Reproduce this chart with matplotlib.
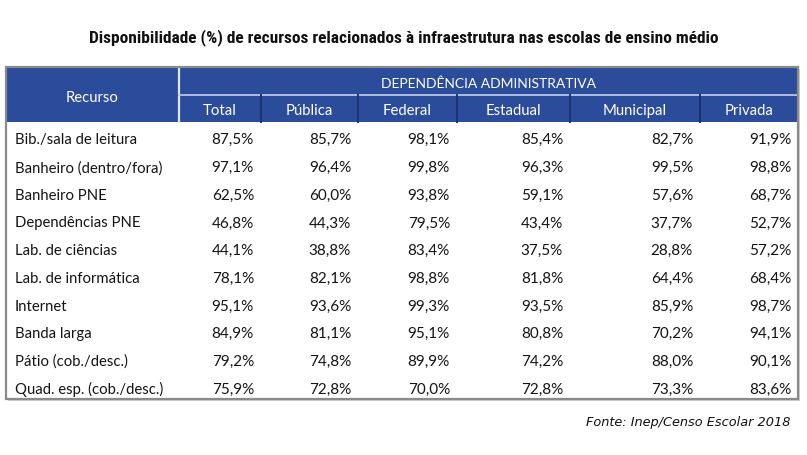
import matplotlib
matplotlib.use("Agg")
import matplotlib.pyplot as plt
from matplotlib.patches import Rectangle
from matplotlib import font_manager

# ---------------- data ----------------
title = "Disponibilidade (%) de recursos relacionados à infraestrutura nas escolas de ensino médio"
source = "Fonte: Inep/Censo Escolar 2018"
row_header = "Recurso"
group_header = "DEPENDÊNCIA ADMINISTRATIVA"
columns = ["Total", "Pública", "Federal", "Estadual", "Municipal", "Privada"]
resources = [
    "Bib./sala de leitura",
    "Banheiro (dentro/fora)",
    "Banheiro PNE",
    "Dependências PNE",
    "Lab. de ciências",
    "Lab. de informática",
    "Internet",
    "Banda larga",
    "Pátio (cob./desc.)",
    "Quad. esp. (cob./desc.)",
]
total     = [87.5, 97.1, 62.5, 46.8, 44.1, 78.1, 95.1, 84.9, 79.2, 75.9]
publica   = [85.7, 96.4, 60.0, 44.3, 38.8, 82.1, 93.6, 81.1, 74.8, 72.8]
federal   = [98.1, 99.8, 93.8, 79.5, 83.4, 98.8, 99.3, 95.1, 89.9, 70.0]
estadual  = [85.4, 96.3, 59.1, 43.4, 37.5, 81.8, 93.5, 80.8, 74.2, 72.8]
municipal = [82.7, 99.5, 57.6, 37.7, 28.8, 64.4, 85.9, 70.2, 88.0, 73.3]
privada   = [91.9, 98.8, 68.7, 52.7, 57.2, 68.4, 98.7, 94.1, 90.1, 83.6]
series = [total, publica, federal, estadual, municipal, privada]

# ---------------- layout ----------------
W, H = 807, 456
col_edges = [6, 179, 261, 358, 457, 570, 700, 798]
top, mid, head_bottom, bottom = 68, 96, 123, 400
blue = "#2b4b9b"
text_col = "#141414"

names = {f.name for f in font_manager.fontManager.ttflist}
body_font = "Lato" if "Lato" in names else "DejaVu Sans"
title_font = "DejaVu Sans"
for cand in ["DejaVu Sans Condensed", "Liberation Sans Narrow", "Roboto Condensed", "Roboto"]:
    if cand in names:
        title_font = cand
        break

fig = plt.figure(figsize=(W / 100, H / 100), dpi=100)
ax = fig.add_axes([0, 0, 1, 1])
ax.set_xlim(0, W)
ax.set_ylim(H, 0)
ax.axis("off")
renderer = fig.canvas.get_renderer()


def fit_size(s, target, **kw):
    t = ax.text(0, 0, s, fontsize=10, **kw)
    w = t.get_window_extent(renderer).width
    t.remove()
    return 10 * target / w


body_size = fit_size(resources[0], 122, family=body_font)
val_size = fit_size("87,5%", 42, family=body_font)
head_size = fit_size(group_header, 214, family=body_font)
title_size = fit_size(title, 630, family=title_font, weight="bold")
src_size = fit_size(source, 205, family="DejaVu Sans", style="italic")

# title
ax.text(W / 2, 38, title, ha="center", va="center", fontsize=title_size,
        family=title_font, weight="bold", color="#111111")

# table shadow + body
ax.add_patch(Rectangle((col_edges[0] + 2, top + 2), col_edges[-1] - col_edges[0],
                       bottom - top, facecolor="#cfcfcf", edgecolor="none", zorder=0))
ax.add_patch(Rectangle((col_edges[0], top), col_edges[-1] - col_edges[0], bottom - top,
                       facecolor="white", edgecolor="none", zorder=1))
# header
ax.add_patch(Rectangle((col_edges[0], top), col_edges[-1] - col_edges[0], head_bottom - top,
                       facecolor=blue, edgecolor="none", zorder=2))
ax.plot([col_edges[1], col_edges[1]], [top, head_bottom], color="#dfe6f4", lw=1.6, zorder=3)
ax.plot([col_edges[1], col_edges[-1]], [mid, mid], color="#b9c6e4", lw=1.3, zorder=3)
for x in col_edges[2:-1]:
    ax.plot([x, x], [mid, head_bottom], color="#1c3370", lw=1.4, zorder=3)
# outer border
ax.add_patch(Rectangle((col_edges[0], top), col_edges[-1] - col_edges[0], bottom - top,
                       facecolor="none", edgecolor="#8a8a8a", lw=1.6, zorder=4))

# header text
ax.text((col_edges[0] + col_edges[1]) / 2, 98, row_header, ha="center", va="center",
        color="white", fontsize=body_size, family=body_font, zorder=5)
ax.text((col_edges[1] + col_edges[-1]) / 2, 83.5, group_header, ha="center", va="center",
        color="white", fontsize=head_size, family=body_font, zorder=5)
for i, c in enumerate(columns):
    ax.text((col_edges[i + 1] + col_edges[i + 2]) / 2, 111, c, ha="center", va="center",
            color="white", fontsize=body_size, family=body_font, zorder=5)

# body
row_h = (bottom - head_bottom) / len(resources)
for r, name in enumerate(resources):
    y = head_bottom + row_h * (r + 0.5) + 3.5
    ax.text(15, y, name, ha="left", va="center", color=text_col,
            fontsize=body_size, family=body_font, zorder=5)
    for i, s in enumerate(series):
        label = f"{s[r]:.1f}%".replace(".", ",")
        ax.text(col_edges[i + 2] - 7, y, label, ha="right", va="center", color=text_col,
                fontsize=val_size, family=body_font, zorder=5)

# source
ax.text(790, 423, source, ha="right", va="center", fontsize=src_size,
        family="DejaVu Sans", style="italic", color="#111111")

fig.savefig("out.png", dpi=100, facecolor="white")
